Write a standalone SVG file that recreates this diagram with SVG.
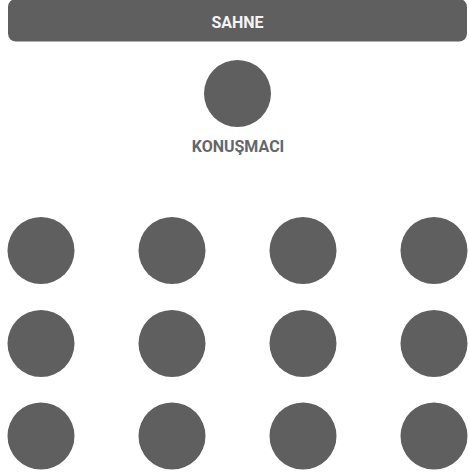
<svg xmlns="http://www.w3.org/2000/svg" width="469" height="476" viewBox="0 0 469 476">
<style>
.seat{fill:#5f5f5f}
.lbl{font-family:"Roboto","Liberation Sans",sans-serif;font-weight:bold;font-size:16px;text-anchor:middle}
</style>
<rect width="469" height="476" fill="#ffffff"/>
<g id="stage">
<rect x="8" y="-1" width="459" height="42.5" rx="8" fill="#5f5f5f"/>
<text class="lbl" x="237.5" y="28" fill="#f4f4f4">SAHNE</text>
</g>
<g id="speaker">
<circle class="seat" cx="237.5" cy="93.5" r="33.5"/>
<text class="lbl" x="238" y="151.5" fill="#666666">KONUŞMACI</text>
</g>
<g id="seats">
<circle id="s11" class="seat" cx="41" cy="250.5" r="33.5"/>
<circle id="s12" class="seat" cx="172" cy="250.5" r="33.5"/>
<circle id="s13" class="seat" cx="303" cy="250.5" r="33.5"/>
<circle id="s14" class="seat" cx="434" cy="250.5" r="33.5"/>
<circle id="s21" class="seat" cx="41" cy="343.5" r="33.5"/>
<circle id="s22" class="seat" cx="172" cy="343.5" r="33.5"/>
<circle id="s23" class="seat" cx="303" cy="343.5" r="33.5"/>
<circle id="s24" class="seat" cx="434" cy="343.5" r="33.5"/>
<circle id="s31" class="seat" cx="41" cy="436" r="33.5"/>
<circle id="s32" class="seat" cx="172" cy="436" r="33.5"/>
<circle id="s33" class="seat" cx="303" cy="436" r="33.5"/>
<circle id="s34" class="seat" cx="434" cy="436" r="33.5"/>
</g>
<g id="connectors"/>
</svg>
